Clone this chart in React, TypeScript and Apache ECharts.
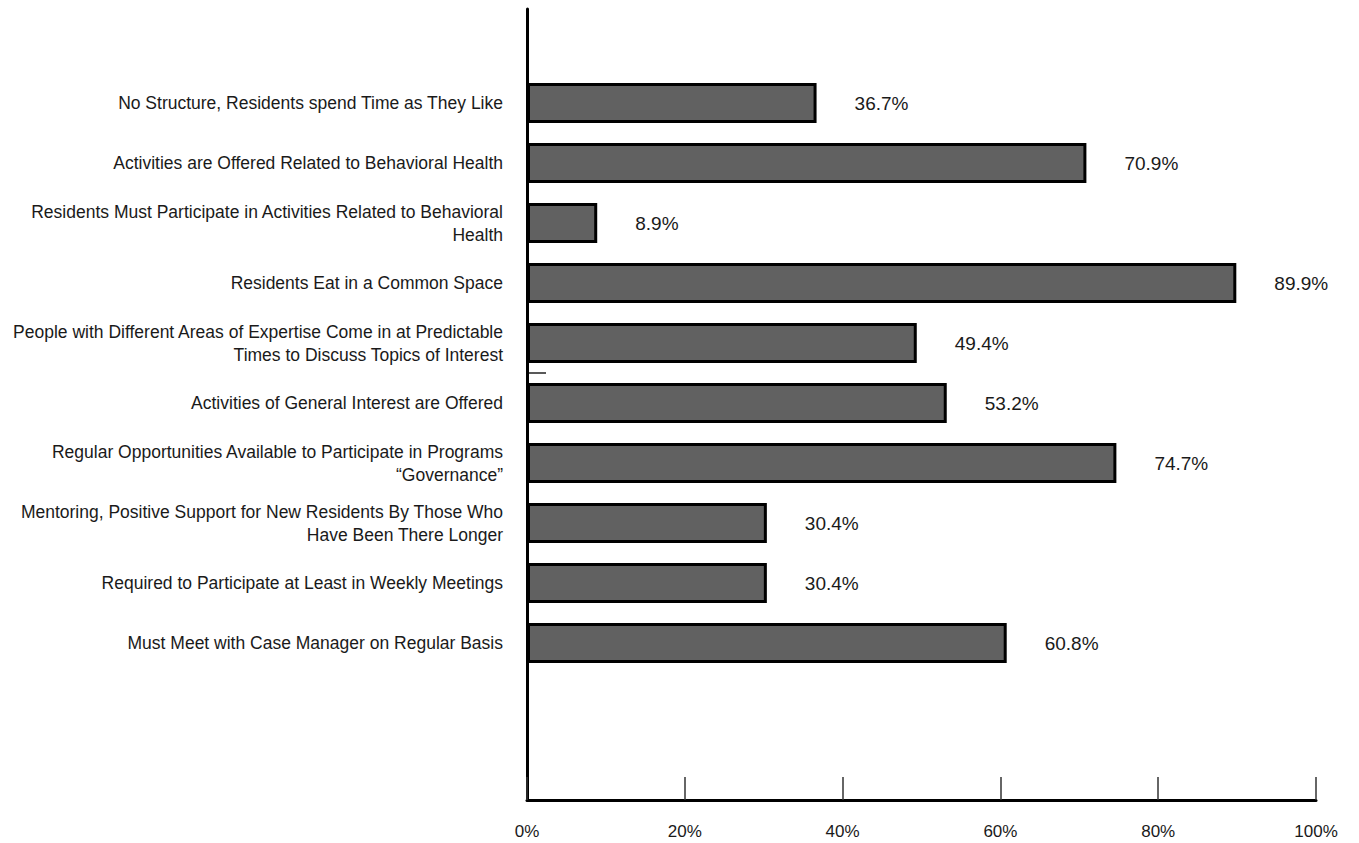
import React, { useEffect, useRef } from "react";
import * as echarts from "echarts";

const categories: string[] = [
  "No Structure, Residents spend Time as They Like",
  "Activities are Offered Related to Behavioral Health",
  "Residents Must Participate in Activities Related to Behavioral\nHealth",
  "Residents Eat in a Common Space",
  "People with Different Areas of Expertise Come in at Predictable\nTimes to Discuss Topics of Interest",
  "Activities of General Interest are Offered",
  "Regular Opportunities Available to Participate in Programs\n\u201cGovernance\u201d",
  "Mentoring, Positive Support for New Residents By Those Who\nHave Been There Longer",
  "Required to Participate at Least in Weekly Meetings",
  "Must Meet with Case Manager on Regular Basis",
];

const values: number[] = [36.7, 70.9, 8.9, 89.9, 49.4, 53.2, 74.7, 30.4, 30.4, 60.8];

const xTicks: number[] = [0, 20, 40, 60, 80, 100];

const FONT = "'Liberation Sans', Arial, sans-serif";

export default function App() {
  const ref = useRef<HTMLDivElement>(null);

  useEffect(() => {
    if (!ref.current) return;
    const chart = echarts.init(ref.current, undefined, { renderer: "svg" });

    const yData = ["", ...categories, "", ""];
    const sData: (number | string)[] = ["-", ...values, "-", "-"];

    chart.setOption({
      animation: false,
      backgroundColor: "#ffffff",
      grid: [
        { left: 527, right: 43, top: 13, height: 780, containLabel: false, outerBoundsMode: "none" },
        { left: 527, right: 43, top: 9, bottom: 43, containLabel: false, outerBoundsMode: "none" },
      ],
      xAxis: [
        { gridIndex: 0, type: "value", min: 0, max: 100, show: false },
        {
          gridIndex: 1,
          type: "value",
          min: xTicks[0],
          max: xTicks[xTicks.length - 1],
          interval: xTicks[1] - xTicks[0],
          axisLine: { show: true, lineStyle: { color: "#000", width: 3 } },
          axisTick: { show: true, inside: true, length: 23, lineStyle: { color: "#333", width: 1.5 } },
          axisLabel: {
            formatter: "{value}%",
            fontSize: 17,
            fontFamily: FONT,
            color: "#1a1a1a",
            margin: 23,
          },
          splitLine: { show: false },
        },
      ],
      yAxis: [
        {
          gridIndex: 0,
          type: "category",
          inverse: true,
          data: yData,
          axisLine: { show: false },
          axisTick: { show: false },
          axisLabel: {
            fontSize: 17.5,
            lineHeight: 23,
            fontFamily: FONT,
            color: "#1a1a1a",
            margin: 24,
            align: "right",
          },
          splitLine: { show: false },
        },
        {
          gridIndex: 1,
          type: "value",
          min: 0,
          max: 1,
          axisLine: { show: true, lineStyle: { color: "#000", width: 3 } },
          axisTick: { show: false },
          axisLabel: { show: false },
          splitLine: { show: false },
        },
      ],
      series: [
        {
          type: "bar",
          xAxisIndex: 0,
          yAxisIndex: 0,
          data: sData,
          barWidth: 40,
          itemStyle: { color: "#616161", borderColor: "#000", borderWidth: 3 },
          label: {
            show: true,
            position: "right",
            distance: 38,
            formatter: "{c}%",
            fontSize: 19,
            fontFamily: FONT,
            color: "#1a1a1a",
          },
        },
      ],
      graphic: [
        {
          type: "line",
          shape: { x1: 528, y1: 373, x2: 546, y2: 373 },
          style: { stroke: "#222", lineWidth: 1.5 },
        },
      ],
    });

    return () => chart.dispose();
  }, []);

  return (
    <div
      ref={ref}
      style={{ position: "fixed", left: 0, top: 0, width: 1359, height: 843 }}
    />
  );
}
